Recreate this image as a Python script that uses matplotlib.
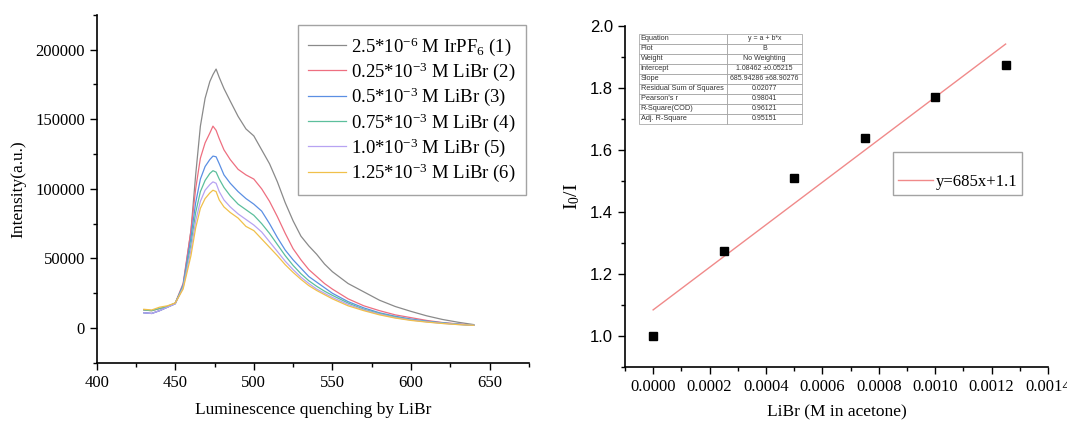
import numpy as np
import matplotlib
matplotlib.use('Agg')
import matplotlib.pyplot as plt
from matplotlib.ticker import MultipleLocator

plt.rcParams['font.family'] = ['Liberation Serif', 'DejaVu Serif']
plt.rcParams['mathtext.fontset'] = 'custom'
plt.rcParams['mathtext.rm'] = 'Liberation Serif'
plt.rcParams['mathtext.it'] = 'Liberation Serif:italic'

# emission spectra (nm, a.u.)
wavelength = [430, 435, 440, 445, 450, 455, 460, 463, 466, 469, 472, 474, 476, 478, 481,
              485, 490, 495, 500, 505, 510, 515, 520, 525, 530, 535, 540, 545, 550,
              560, 570, 580, 590, 600, 610, 620, 630, 640]
irpf6 = [11000, 10500, 12500, 15000, 17500, 30000, 70000, 110000, 145000, 165000, 177000, 182000,
         186000, 180000, 172000, 163000, 152000, 143000, 138000, 128000, 118000, 105000, 90000,
         77000, 66000, 59000, 53000, 46000, 40500, 32000, 26000, 20000, 15500, 12000, 8800,
         6200, 4200, 2500]
libr_025 = [13000, 12500, 14000, 15500, 18000, 32000, 70000, 100000, 122000, 133000, 140000, 145000,
            142000, 136000, 128000, 121000, 114000, 110000, 107000, 100000, 91000, 80000, 68000,
            57000, 49000, 42000, 37000, 32000, 28000, 21000, 16000, 12500, 9500, 7500, 5500,
            4000, 3000, 2000]
libr_05 = [11000, 10500, 12500, 15000, 17500, 31000, 65000, 90000, 107000, 116000, 121000, 123500,
           123000, 118000, 110000, 104000, 98000, 93000, 89000, 84000, 75000, 65000, 56000,
           49000, 43000, 37000, 33000, 29000, 25000, 19000, 14500, 11000, 8500, 6500, 5000,
           3800, 2800, 2000]
libr_075 = [13000, 12500, 14000, 15500, 18000, 30000, 60000, 83000, 98000, 106000, 111000, 113000,
            112000, 107000, 101000, 95000, 89000, 85000, 81000, 75000, 68000, 60000, 52000,
            45000, 39000, 34000, 30000, 26500, 23500, 18000, 13500, 10500, 8000, 6000, 4700,
            3600, 2700, 2000]
libr_10 = [11000, 10500, 12500, 15000, 17500, 29000, 56000, 77000, 91000, 99000, 103000, 105000,
           104000, 98000, 92000, 87000, 82000, 78000, 74000, 69000, 62000, 55000, 48000,
           42000, 36500, 32000, 28000, 25000, 22000, 17000, 13000, 10000, 7500, 5800, 4500,
           3400, 2600, 2000]
libr_125 = [13500, 13000, 15000, 16000, 18000, 28000, 52000, 72000, 86000, 93000, 97000, 99000,
            98000, 92000, 87000, 83000, 79000, 73000, 70000, 64000, 58000, 52000, 45500,
            40000, 35000, 30500, 27000, 24000, 21000, 16000, 12500, 9500, 7200, 5500, 4300,
            3300, 2500, 2000]

spectra = [irpf6, libr_025, libr_05, libr_075, libr_10, libr_125]
spec_labels = [r'2.5*10$^{-6}$ M IrPF$_6$ (1)',
               r'0.25*10$^{-3}$ M LiBr (2)',
               r'0.5*10$^{-3}$ M LiBr (3)',
               r'0.75*10$^{-3}$ M LiBr (4)',
               r'1.0*10$^{-3}$ M LiBr (5)',
               r'1.25*10$^{-3}$ M LiBr (6)']
spec_colors = ['#8a8a8a', '#ee6f80', '#5b8fe3', '#5cbf9c', '#b7a3f2', '#f0c04a']

# Stern-Volmer data
conc = [0.0, 0.00025, 0.0005, 0.00075, 0.0010, 0.00125]
ratio = [1.0, 1.275, 1.51, 1.64, 1.772, 1.873]
intercept = 1.08462
slope = 685.94286

fit_rows = [['Equation', 'y = a + b*x'],
            ['Plot', 'B'],
            ['Weight', 'No Weighting'],
            ['Intercept', '1.08462 \u00b10.05215'],
            ['Slope', '685.94286 \u00b168.90276'],
            ['Residual Sum of Squares', '0.02077'],
            ["Pearson's r", '0.98041'],
            ['R-Square(COD)', '0.96121'],
            ['Adj. R-Square', '0.95151']]

fig = plt.figure(figsize=(10.67, 4.21), dpi=100)

# ---- left: spectra ----
ax1 = fig.add_axes([0.0906, 0.138, 0.405, 0.827])
for y, lab, c in zip(spectra, spec_labels, spec_colors):
    ax1.plot(wavelength, y, color=c, lw=0.9, label=lab)
ax1.set_xlim(400, 675)
ax1.set_ylim(-25000, 225000)
ax1.xaxis.set_minor_locator(MultipleLocator(25))
ax1.yaxis.set_minor_locator(MultipleLocator(25000))
ax1.set_xticks([400, 450, 500, 550, 600, 650])
ax1.set_yticks([0, 50000, 100000, 150000, 200000])
ax1.set_xlabel('Luminescence quenching by LiBr', fontsize=12.5, labelpad=8)
ax1.set_ylabel('Intensity(a.u.)', fontsize=12.5, labelpad=6)
leg1 = ax1.legend(loc='upper left', bbox_to_anchor=(0.466, 0.971), borderaxespad=0,
                  fontsize=13.5, frameon=True, fancybox=False, handlelength=2.0,
                  labelspacing=0.15, handletextpad=0.25, borderpad=0.55)
leg1.get_frame().set_edgecolor('#8c8c8c')
leg1.get_frame().set_linewidth(1.0)

# ---- right: I0/I vs [LiBr] ----
ax2 = fig.add_axes([0.5857, 0.128, 0.3964, 0.81])
xfit = np.array([conc[0], conc[-1]])
ax2.plot(xfit, intercept + slope * xfit, color='#f08a8a', lw=1.0, label='y=685x+1.1')
ax2.plot(conc, ratio, 's', color='black', ms=6, zorder=3)
ax2.set_xlim(-0.0001, 0.0014)
ax2.set_ylim(0.9, 2.0)
ax2.set_xticks([0.0, 0.0002, 0.0004, 0.0006, 0.0008, 0.0010, 0.0012, 0.0014])
ax2.set_xticklabels(['0.0000', '0.0002', '0.0004', '0.0006', '0.0008', '0.0010', '0.0012', '0.0014'])
ax2.xaxis.set_minor_locator(MultipleLocator(0.0001))
ax2.set_yticks([1.0, 1.2, 1.4, 1.6, 1.8, 2.0])
ax2.yaxis.set_minor_locator(MultipleLocator(0.1))
ax2.set_xlabel('LiBr (M in acetone)', fontsize=12.5, labelpad=7)
ax2.set_ylabel(r'I$_0$/I', fontsize=14, labelpad=6)
leg2 = ax2.legend(loc='upper left', bbox_to_anchor=(0.634, 0.63), borderaxespad=0,
                  fontsize=12, title=' ', title_fontsize=6, frameon=True, fancybox=False,
                  handlelength=2.1, handletextpad=0.15, borderpad=0.3)
leg2.get_frame().set_edgecolor('#8c8c8c')
leg2.get_frame().set_linewidth(1.0)

tb = ax2.table(cellText=fit_rows, colWidths=[0.54 * 0.385, 0.46 * 0.385],
               cellLoc='center', bbox=[0.033, 0.713, 0.385, 0.264])
tb.auto_set_font_size(False)
for (r, c), cell in tb.get_celld().items():
    cell.set_edgecolor('#9a9a9a')
    cell.set_linewidth(0.5)
    txt = cell.get_text()
    txt.set_fontfamily('Liberation Sans')
    txt.set_color('#333333')
    if c == 0:
        txt.set_fontsize(5.3)
        txt.set_horizontalalignment('left')
        cell.PAD = 0.02
    else:
        txt.set_fontsize(5.0)

for ax in (ax1, ax2):
    ax.spines['top'].set_visible(False)
    ax.spines['right'].set_visible(False)
    ax.spines['left'].set_linewidth(1.2)
    ax.spines['bottom'].set_linewidth(1.2)
    ax.tick_params(which='major', direction='out', length=5, width=1.0, labelsize=12)
    ax.tick_params(which='minor', direction='out', length=3, width=1.0)
ax2.tick_params(axis='y', labelfontfamily='Liberation Sans')
ax2.tick_params(axis='x', labelfontfamily='Liberation Serif')

fig.savefig('out.png', dpi=100)
